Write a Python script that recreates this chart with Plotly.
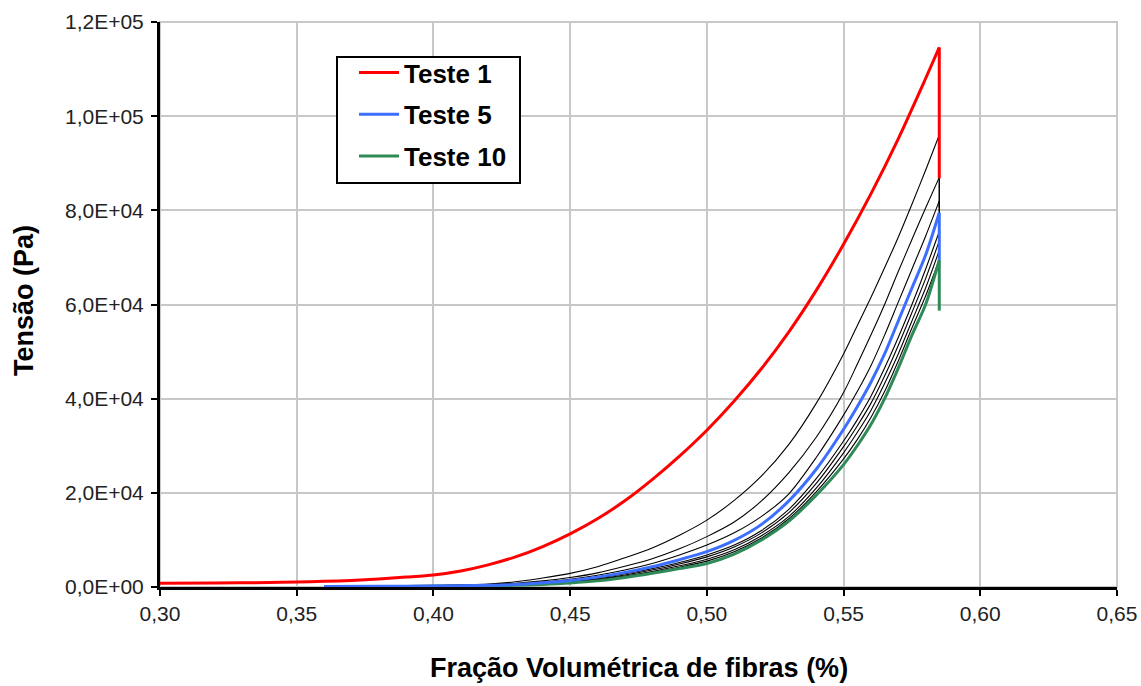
import plotly.graph_objects as go

# ---------------- data ----------------
X_TESTE1 = [0.30, 0.32, 0.34, 0.35, 0.36, 0.37, 0.38, 0.39, 0.40, 0.41, 0.42, 0.43, 0.44,
            0.45, 0.46, 0.47, 0.48, 0.49, 0.50, 0.51, 0.52, 0.53, 0.54, 0.55, 0.56, 0.57,
            0.58, 0.585]
Y_TESTE1 = [800, 850, 950, 1050, 1200, 1400, 1700, 2100, 2550, 3400, 4700, 6400, 8600,
            11300, 14500, 18300, 22800, 27800, 33300, 39500, 46400, 54200, 63000, 72800,
            83500, 95200, 108000, 114600]

X_GRID = [0.36, 0.38, 0.40, 0.42, 0.43, 0.44, 0.45, 0.46, 0.47, 0.48, 0.49, 0.50, 0.51,
          0.52, 0.53, 0.54, 0.55, 0.555, 0.56, 0.565, 0.57, 0.575, 0.58, 0.585]

Y_TESTE2 = [200, 250, 350, 600, 1100, 1900, 2900, 4300, 6200, 8300, 11000, 14200, 18400,
            23600, 30300, 39000, 49500, 55500, 61500, 67800, 74300, 81300, 88500, 96000]
Y_TESTE3 = [180, 220, 300, 500, 800, 1300, 2000, 3000, 4400, 6000, 8100, 10700, 13800,
            18300, 24300, 31800, 41300, 47300, 53500, 60000, 67000, 73800, 80500, 87000]
Y_TESTE4 = [150, 200, 270, 420, 650, 1050, 1650, 2500, 3600, 5000, 6800, 8900, 11500,
            15000, 19800, 27500, 36500, 41500, 47000, 53500, 60500, 67500, 74500, 82000]
Y_TESTE5 = [120, 160, 220, 350, 550, 900, 1400, 2100, 3100, 4300, 5800, 7500, 9900,
            13300, 18300, 25000, 33500, 38300, 43500, 49500, 56500, 63500, 70500, 79500]
Y_TESTE6 = [110, 150, 200, 320, 500, 800, 1250, 1900, 2800, 3900, 5200, 6800, 8900,
            12000, 16500, 23000, 31000, 35500, 40500, 46500, 53000, 60000, 67500, 75500]
Y_TESTE7 = [100, 140, 190, 300, 460, 730, 1150, 1750, 2550, 3600, 4900, 6400, 8500,
            11500, 15800, 22000, 29800, 34200, 39000, 44800, 51300, 58300, 65500, 73500]
Y_TESTE8 = [95, 130, 175, 280, 420, 670, 1050, 1600, 2350, 3300, 4500, 5900, 7900,
            10900, 15000, 21000, 28500, 32800, 37500, 43200, 49500, 56500, 63500, 71500]
Y_TESTE9 = [90, 120, 160, 260, 390, 620, 950, 1450, 2150, 3100, 4200, 5500, 7500,
            10400, 14500, 20200, 27200, 31300, 36000, 41500, 48000, 55000, 61800, 69500]
Y_TESTE10 = [80, 100, 140, 230, 350, 550, 850, 1300, 2000, 2900, 3900, 5000, 7000,
             10000, 14000, 19500, 26000, 30000, 34500, 40000, 46500, 53500, 60000, 69400]

# stress right after the stop (vertical relaxation segment at the end of each test)
X_STOP = 0.585
DROP_END = {"Teste 1": 86800, "Teste 2": 80500, "Teste 3": 76500, "Teste 4": 72500,
            "Teste 5": 69400, "Teste 6": 67500, "Teste 7": 65500, "Teste 8": 63000,
            "Teste 9": 61000, "Teste 10": 58700}

Y_TICKS = [0, 20000, 40000, 60000, 80000, 100000, 120000]
Y_TICK_TEXT = ["0,0E+00", "2,0E+04", "4,0E+04", "6,0E+04", "8,0E+04", "1,0E+05", "1,2E+05"]
X_TICKS = [0.30, 0.35, 0.40, 0.45, 0.50, 0.55, 0.60, 0.65]
X_TICK_TEXT = ["0,30", "0,35", "0,40", "0,45", "0,50", "0,55", "0,60", "0,65"]

# ---------------- figure ----------------
FONT = "Liberation Sans, Arial, sans-serif"
fig = go.Figure()


def add_test(name, xs, ys, color, width, legend, rank):
    fig.add_trace(go.Scatter(x=xs, y=ys, mode="lines", name=name, showlegend=legend,
                             legendgroup=name, legendrank=rank,
                             line=dict(color=color, width=width, shape="spline",
                                       smoothing=0.8)))
    # vertical drop at the end of compression
    fig.add_trace(go.Scatter(x=[xs[-1], X_STOP], y=[ys[-1], DROP_END[name]], mode="lines",
                             name=name, showlegend=False, legendgroup=name,
                             hoverinfo="skip", line=dict(color=color, width=width)))


black_tests = [("Teste 2", Y_TESTE2), ("Teste 3", Y_TESTE3), ("Teste 4", Y_TESTE4),
               ("Teste 6", Y_TESTE6), ("Teste 7", Y_TESTE7), ("Teste 8", Y_TESTE8),
               ("Teste 9", Y_TESTE9)]
for i, (name, ys) in enumerate(black_tests):
    add_test(name, X_GRID, ys, "#000000", 1.1, False, 10 + i)

add_test("Teste 10", X_GRID, Y_TESTE10, "#2E8B57", 3, True, 3)
add_test("Teste 5", X_GRID, Y_TESTE5, "#3D6FFF", 3, True, 2)
add_test("Teste 1", X_TESTE1, Y_TESTE1, "#FF0000", 3, True, 1)

# plot area in pixels: x 160..1117, y 22..587
PX_L, PX_R, PX_T, PX_B = 160, 1117, 22, 587
W, H = PX_R - PX_L, PX_B - PX_T


def px(x):
    return (x - PX_L) / W


def py(y):
    return (PX_B - y) / H


fig.update_layout(
    width=1141, height=686,
    margin=dict(l=PX_L, r=1141 - PX_R, t=PX_T, b=686 - PX_B, autoexpand=False),
    paper_bgcolor="white", plot_bgcolor="white",
    font=dict(family=FONT, color="#222222"),
    showlegend=True,
    legend=dict(x=px(354), y=py(49), xanchor="left", yanchor="top",
                bgcolor="rgba(0,0,0,0)", borderwidth=0,
                font=dict(family=FONT, size=26, color="#000000", weight="bold"),
                traceorder="grouped", tracegroupgap=5, itemwidth=40),
    shapes=[dict(type="rect", xref="paper", yref="paper", x0=0, y0=0, x1=1, y1=1,
                 line=dict(color="#C8C8C8", width=2), layer="below"),
            dict(type="rect", xref="paper", yref="paper", x0=px(337), x1=px(520),
                 y0=py(183), y1=py(57), fillcolor="white",
                 line=dict(color="#000000", width=2), layer="above")],
    annotations=[
        dict(text="Fração Volumétrica de fibras (%)", xref="paper", yref="paper",
             x=0.5, y=py(668), xanchor="center", yanchor="middle", showarrow=False,
             font=dict(family=FONT, size=27, color="#000000", weight="bold")),
        dict(text="Tensão (Pa)", xref="paper", yref="paper", textangle=-90,
             x=px(24), y=py(301), xanchor="center", yanchor="middle", showarrow=False,
             font=dict(family=FONT, size=27, color="#000000", weight="bold")),
    ],
)
fig.update_xaxes(range=[0.30, 0.65], tickvals=X_TICKS, ticktext=X_TICK_TEXT,
                 automargin=False,
                 showgrid=True, gridcolor="#C8C8C8", gridwidth=2,
                 showline=True, linecolor="#000000", linewidth=3,
                 ticks="outside", ticklen=6, tickwidth=2, tickcolor="#000000",
                 tickfont=dict(family=FONT, size=21, color="#222222"),
                 zeroline=False)
fig.update_yaxes(range=[0, 120000], tickvals=Y_TICKS, ticktext=Y_TICK_TEXT,
                 automargin=False,
                 showgrid=True, gridcolor="#C8C8C8", gridwidth=2,
                 showline=True, linecolor="#000000", linewidth=3,
                 ticks="outside", ticklen=6, tickwidth=2, tickcolor="#000000",
                 ticklabelstandoff=3,
                 tickfont=dict(family=FONT, size=21, color="#222222"),
                 zeroline=False)

fig.write_html("out.html")
